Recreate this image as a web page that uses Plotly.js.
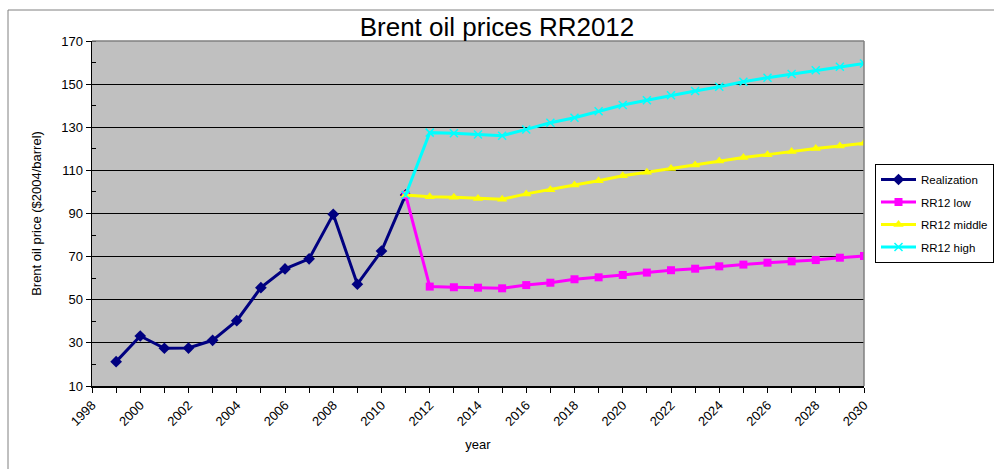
<!DOCTYPE html>
<html>
<head>
<meta charset="utf-8">
<script src="https://cdn.plot.ly/plotly-3.0.1.min.js"></script>
<style>html,body{margin:0;padding:0;background:#fff;}#chart{width:994px;height:469px;}</style>
</head>
<body>
<div id="chart"></div>
<script>
var realYears = [1999,2000,2001,2002,2003,2004,2005,2006,2007,2008,2009,2010,2011];
var realization = [21.3,33.2,27.5,27.6,31.2,40.3,55.6,64.3,69.0,89.6,57.2,72.6,98.6];

var scenYears = [2011,2012,2013,2014,2015,2016,2017,2018,2019,2020,2021,2022,2023,2024,2025,2026,2027,2028,2029,2030];
var rr12Low    = [98.6,56.1,55.8,55.6,55.3,56.8,57.9,59.5,60.4,61.5,62.6,63.7,64.4,65.5,66.3,67.2,67.8,68.4,69.5,70.3];
var rr12Middle = [98.6,97.8,97.5,97.0,96.6,99.1,101.0,103.2,105.2,107.5,109.1,110.9,112.5,114.3,116.0,117.3,118.8,120.1,121.3,122.6];
var rr12High   = [98.6,127.5,127.2,126.6,126.1,129.0,132.1,134.4,137.4,140.3,142.5,144.8,146.8,148.8,151.1,153.0,154.7,156.4,158.1,159.6];

var seriesNames = ['Realization','RR12 low','RR12 middle','RR12 high'];

var traces = [
  {x: realYears, y: realization, name: seriesNames[0], type:'scatter', mode:'lines+markers',
   line:{color:'#000080', width:3}, marker:{symbol:'diamond', size:9, color:'#000080'}, legendgroup:'a'},
  {x: scenYears, y: rr12Low, name: seriesNames[1], type:'scatter', mode:'lines+markers',
   line:{color:'#FF00FF', width:3}, marker:{symbol:'square', size:8, color:'#FF00FF'}, legendgroup:'b'},
  {x: scenYears, y: rr12Middle, name: seriesNames[2], type:'scatter', mode:'lines+markers',
   line:{color:'#FFFF00', width:3}, marker:{symbol:'triangle-up', size:9, color:'#FFFF00'}, legendgroup:'c'},
  {x: scenYears, y: rr12High, name: seriesNames[3], type:'scatter', mode:'lines+markers',
   line:{color:'#00FFFF', width:3}, marker:{symbol:'x-thin', size:8, color:'#00FFFF', line:{color:'#00FFFF', width:1.5}}, legendgroup:'d'}
];

var layout = {
  width: 994, height: 469,
  margin: {l:92, r:130, t:41, b:83},
  paper_bgcolor: '#ffffff',
  plot_bgcolor: '#C0C0C0',
  font: {family: 'Liberation Sans, Arial, sans-serif', color:'#000', size:12},
  title: {text: 'Brent oil prices RR2012', font:{size:26, family:'Liberation Sans, Arial, sans-serif', color:'#000'},
          x:0.5, xref:'container', y:1-27/469, yref:'container', yanchor:'middle'},
  xaxis: {
    range:[1998,2030], dtick:2, tick0:1998, tickangle:-45,
    ticks:'outside', ticklen:5, tickcolor:'#000', showgrid:false, zeroline:false,
    showline:true, linecolor:'#000', linewidth:1.5,
    minor:{dtick:1, ticks:'outside', ticklen:5, tickcolor:'#000', showgrid:false},
    tickfont:{size:13},
    title:{text:'year', font:{size:13}, standoff:12}
  },
  yaxis: {
    range:[10,170], dtick:20, tick0:10,
    ticks:'outside', ticklen:5, tickcolor:'#000',
    showgrid:true, gridcolor:'#000', gridwidth:1, zeroline:false,
    showline:true, linecolor:'#000', linewidth:1.5,
    minor:{dtick:10, ticks:'inside', ticklen:4, tickcolor:'#000', showgrid:false},
    tickfont:{size:13},
    title:{text:'Brent oil price ($2004/barrel)', font:{size:13}, standoff:16}
  },
  showlegend: true,
  legend: {
    xref:'container', yref:'container',
    x: 875/994, y: 1-164/469, xanchor:'left', yanchor:'top',
    bgcolor:'#ffffff', bordercolor:'#000', borderwidth:1,
    font:{size:11.5}, traceorder:'grouped', tracegroupgap:3.5, itemwidth:35
  },
  shapes: [
    {type:'rect', xref:'paper', yref:'paper', x0:(8-92)/772, x1:(1000-92)/772, y0:(386-480)/345, y1:(386-10)/345,
     line:{color:'#808080', width:1}, fillcolor:'rgba(0,0,0,0)', layer:'below'},
    {type:'line', xref:'paper', yref:'paper', x0:0, x1:1, y0:1, y1:1, line:{color:'#808080', width:1.5}},
    {type:'line', xref:'paper', yref:'paper', x0:1, x1:1, y0:0, y1:1, line:{color:'#808080', width:1.5}}
  ]
};

Plotly.newPlot('chart', traces, layout, {displayModeBar:false, staticPlot:true});
</script>
</body>
</html>
